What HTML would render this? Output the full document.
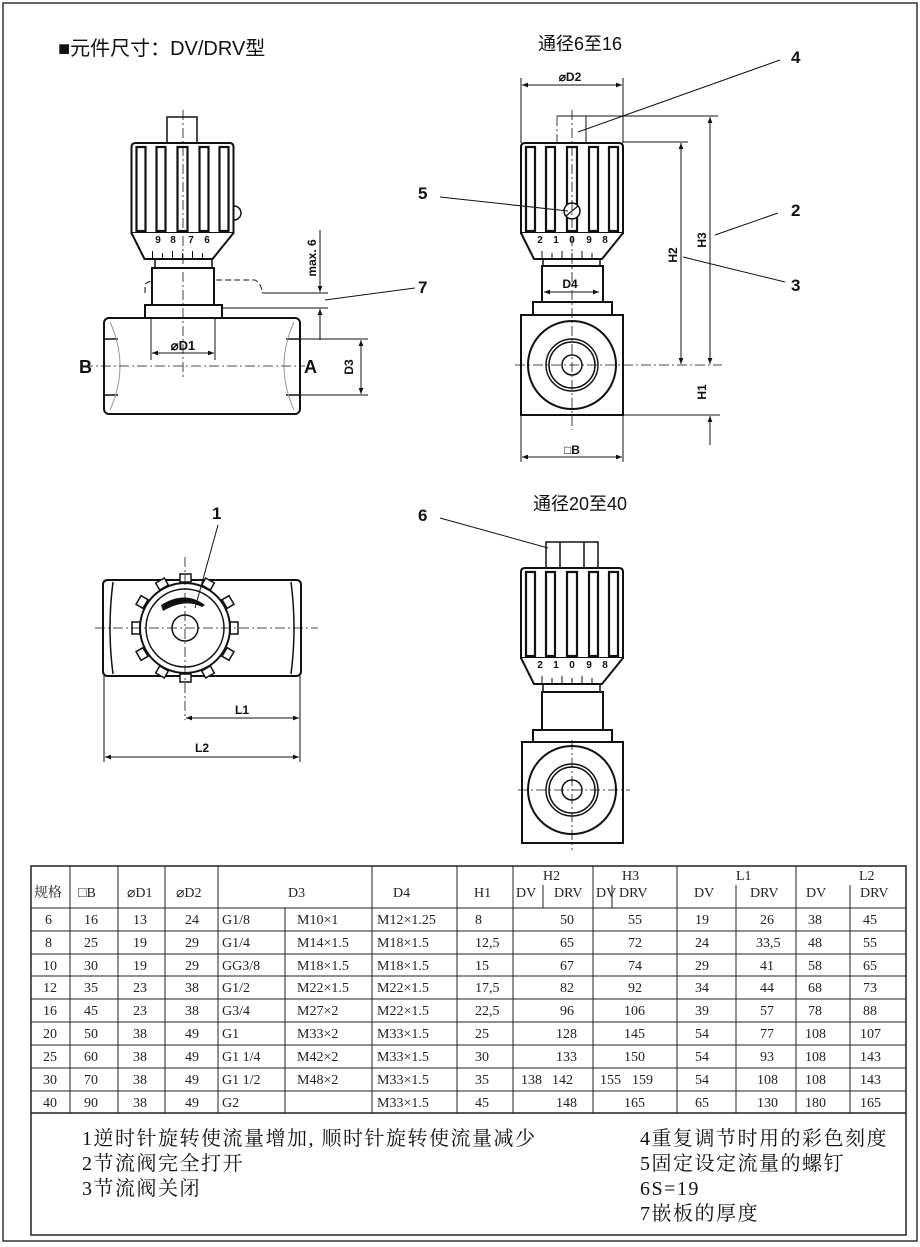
<!DOCTYPE html>
<html><head><meta charset="utf-8"><style>
body{margin:0;background:#fff;}
svg{display:block;}
.t{font-family:"Liberation Serif","Noto Serif CJK SC",serif;font-size:14px;fill:#222;}
.n{font-family:"Liberation Serif","Noto Serif CJK SC",serif;font-size:20px;letter-spacing:1.5px;fill:#111;}
.s{font-family:"Liberation Sans","Noto Sans CJK SC",sans-serif;font-weight:bold;fill:#111;}
</style></head><body>
<svg width="920" height="1247" viewBox="0 0 920 1247" xmlns="http://www.w3.org/2000/svg">
<defs>
<marker id="a" viewBox="0 0 10 10" refX="10" refY="5" markerWidth="9" markerHeight="6" orient="auto-start-reverse" markerUnits="userSpaceOnUse"><path d="M0,1 L10,5 L0,9 z" fill="#111"/></marker>
<g id="knob">
 <path d="M-51,0 Q-51,-4 -47,-4 L47,-4 Q51,-4 51,0 L51,86 L-51,86 Z" fill="#fff" stroke="#111" stroke-width="2"/>
 <rect x="-46" y="0" width="9" height="84" fill="#fff" stroke="#111" stroke-width="2.2"/>
 <rect x="-26" y="0" width="9" height="84" fill="#fff" stroke="#111" stroke-width="2.2"/>
 <rect x="-5" y="0" width="10" height="84" fill="#fff" stroke="#111" stroke-width="2.2"/>
 <rect x="17" y="0" width="9" height="84" fill="#fff" stroke="#111" stroke-width="2.2"/>
 <rect x="37" y="0" width="9" height="84" fill="#fff" stroke="#111" stroke-width="2.2"/>
 <path d="M-51,86 L-38,112 L30,112 L51,86" fill="#fff" stroke="#111" stroke-width="2"/>
 <g stroke="#111" stroke-width="1"><line x1="-30" y1="104" x2="-30" y2="112"/><line x1="-20" y1="106" x2="-20" y2="112"/><line x1="-10" y1="104" x2="-10" y2="112"/><line x1="0" y1="106" x2="0" y2="112"/><line x1="10" y1="104" x2="10" y2="112"/><line x1="20" y1="106" x2="20" y2="112"/></g>
</g>
</defs>
<rect x="3" y="3" width="914" height="1238" fill="none" stroke="#333" stroke-width="1.5"/>
<text x="58" y="55" class="s" style="font-weight:normal;font-size:20px;">■元件尺寸：DV/DRV型</text>

<!-- Drawing 1 -->
<g fill="none" stroke="#111" stroke-width="1.5">
<rect x="167" y="117" width="30" height="26"/>
<path d="M145,293 L145,284 Q150,280 160,280 L255,280 Q262,284 262,293" stroke-dasharray="6,3" stroke-width="1"/>
<rect x="155" y="259" width="57" height="10" fill="#fff"/>
<rect x="152" y="268" width="62" height="37" fill="#fff" stroke-width="2"/>
<rect x="145" y="305" width="77" height="13" fill="#fff" stroke-width="2"/>
<rect x="104" y="318" width="196" height="96" rx="5" fill="#fff" stroke-width="2"/>
<path d="M104,339 L118,339 M104,395 L118,395 M286,339 L300,339 M286,395 L300,395"/>
<path d="M110,322 Q130,366 110,410 M294,322 Q274,366 294,410" stroke="#999" stroke-width="1"/>
</g>
<use href="#knob" transform="translate(182.5,147)"/>
<path d="M234,206 A7,7 0 0 1 234,220" fill="none" stroke="#111" stroke-width="1.5"/>
<g class="s" font-size="10" text-anchor="middle"><text x="158" y="243">9</text><text x="173" y="243">8</text><text x="191" y="243">7</text><text x="207" y="243">6</text></g>
<g stroke="#111" stroke-width="0.8" stroke-dasharray="10,3,2,3" fill="none">
<line x1="183" y1="110" x2="183" y2="380"/><line x1="83" y1="366" x2="305" y2="366"/>
</g>
<g stroke="#111" stroke-width="1" fill="none">
<line x1="151" y1="318" x2="151" y2="360"/><line x1="215" y1="318" x2="215" y2="360"/>
<line x1="152" y1="353" x2="214" y2="353" marker-start="url(#a)" marker-end="url(#a)"/>
<line x1="300" y1="339" x2="368" y2="339"/><line x1="300" y1="395" x2="368" y2="395"/>
<line x1="361" y1="340" x2="361" y2="394" marker-start="url(#a)" marker-end="url(#a)"/>
<line x1="262" y1="293" x2="328" y2="293"/><line x1="222" y1="308" x2="328" y2="308"/>
<line x1="320" y1="230" x2="320" y2="292" marker-end="url(#a)"/>
<line x1="320" y1="340" x2="320" y2="309" marker-end="url(#a)"/>
<line x1="325" y1="300" x2="415" y2="288"/>
</g>
<text x="183" y="350" class="s" font-size="13" text-anchor="middle">⌀D1</text>
<text x="79" y="373" class="s" font-size="18">B</text>
<text x="304" y="373" class="s" font-size="18">A</text>
<text transform="translate(353,367) rotate(-90)" class="s" font-size="12" text-anchor="middle">D3</text>
<text transform="translate(316,258) rotate(-90)" class="s" font-size="12" text-anchor="middle">max. 6</text>
<text x="418" y="293" class="s" font-size="17">7</text>

<!-- Drawing 2 -->
<text x="580" y="50" class="s" style="font-weight:normal" font-size="18" text-anchor="middle">通径6至16</text>
<g fill="none" stroke="#111" stroke-width="1.5">
<rect x="543" y="258" width="57" height="10" fill="#fff"/>
<rect x="542" y="266" width="61" height="36" fill="#fff" stroke-width="2"/>
<rect x="533" y="302" width="79" height="13" fill="#fff" stroke-width="2"/>
<rect x="521" y="315" width="102" height="100" fill="#fff" stroke-width="2"/>
<circle cx="572" cy="365" r="44" stroke-width="2"/><circle cx="572" cy="365" r="26"/><circle cx="572" cy="365" r="23"/><circle cx="572" cy="365" r="10"/>
</g>
<use href="#knob" transform="translate(572,147)"/>
<circle cx="572" cy="211" r="8" fill="#fff" stroke="#111" stroke-width="1.5"/>
<line x1="566" y1="216" x2="578" y2="206" stroke="#111" stroke-width="1.2"/>
<g class="s" font-size="10" text-anchor="middle"><text x="540" y="243">2</text><text x="556" y="243">1</text><text x="572" y="243">0</text><text x="589" y="243">9</text><text x="605" y="243">8</text></g>
<g stroke="#111" stroke-width="0.8" stroke-dasharray="10,3,2,3" fill="none">
<line x1="572" y1="110" x2="572" y2="430"/><line x1="515" y1="365" x2="722" y2="365"/>
<line x1="557" y1="116" x2="557" y2="143"/>
</g>
<g stroke="#111" stroke-width="1" fill="none">
<line x1="586" y1="116" x2="586" y2="143"/><line x1="557" y1="116" x2="718" y2="116"/>
<line x1="521" y1="78" x2="521" y2="143"/><line x1="623" y1="78" x2="623" y2="143"/>
<line x1="522" y1="85" x2="622" y2="85" marker-start="url(#a)" marker-end="url(#a)"/>
<line x1="623" y1="142" x2="688" y2="142"/>
<line x1="681" y1="143" x2="681" y2="364" marker-start="url(#a)" marker-end="url(#a)"/>
<line x1="710" y1="117" x2="710" y2="364" marker-start="url(#a)" marker-end="url(#a)"/>
<line x1="623" y1="415" x2="720" y2="415"/>
<line x1="710" y1="445" x2="710" y2="416" marker-end="url(#a)"/>
<line x1="521" y1="415" x2="521" y2="462"/><line x1="623" y1="415" x2="623" y2="462"/>
<line x1="522" y1="457" x2="622" y2="457" marker-start="url(#a)" marker-end="url(#a)"/>
<line x1="544" y1="292" x2="599" y2="292" marker-start="url(#a)" marker-end="url(#a)"/>
<line x1="578" y1="132" x2="780" y2="60"/>
<line x1="440" y1="197" x2="568" y2="211"/>
<line x1="715" y1="235" x2="778" y2="213"/>
<line x1="683" y1="257" x2="785" y2="282"/>
</g>
<text x="570" y="81" class="s" font-size="12" text-anchor="middle">⌀D2</text>
<text x="570" y="288" class="s" font-size="12" text-anchor="middle">D4</text>
<text x="572" y="454" class="s" font-size="12" text-anchor="middle">□B</text>
<text transform="translate(677,255) rotate(-90)" class="s" font-size="12" text-anchor="middle">H2</text>
<text transform="translate(706,240) rotate(-90)" class="s" font-size="12" text-anchor="middle">H3</text>
<text transform="translate(706,392) rotate(-90)" class="s" font-size="12" text-anchor="middle">H1</text>
<g class="s" font-size="17"><text x="791" y="63">4</text><text x="418" y="199">5</text><text x="791" y="216">2</text><text x="791" y="291">3</text></g>

<!-- Drawing 3 -->
<g fill="none" stroke="#111" stroke-width="1.5">
<path d="M108,580 L296,580 Q301,580 301,585 L301,671 Q301,676 296,676 L108,676 Q103,676 103,671 L103,585 Q103,580 108,580 Z" stroke-width="2"/>
<path d="M113,582 Q107,628 113,674 M291,582 Q297,628 291,674"/>
<g fill="#fff">
<rect x="180" y="574" width="11" height="8"/><rect x="180" y="674" width="11" height="8"/>
<rect x="132" y="622" width="8" height="12"/><rect x="230" y="622" width="8" height="12"/>
<rect x="203" y="580" width="10" height="8" transform="rotate(30 208 584)"/>
<rect x="223" y="598" width="10" height="8" transform="rotate(60 228 602)"/>
<rect x="223" y="650" width="10" height="8" transform="rotate(-60 228 654)"/>
<rect x="203" y="668" width="10" height="8" transform="rotate(-30 208 672)"/>
<rect x="157" y="580" width="10" height="8" transform="rotate(-30 162 584)"/>
<rect x="137" y="598" width="10" height="8" transform="rotate(-60 142 602)"/>
<rect x="137" y="650" width="10" height="8" transform="rotate(60 142 654)"/>
<rect x="157" y="668" width="10" height="8" transform="rotate(30 162 672)"/>
</g>
<circle cx="185" cy="628" r="45" fill="#fff" stroke-width="2"/>
<circle cx="185" cy="628" r="39"/>
<circle cx="185" cy="628" r="13"/>
</g>
<path d="M161,605 Q185,590 205,605 L202,607 Q185,598 163,611 Z" fill="#111"/>
<g stroke="#111" stroke-width="0.8" stroke-dasharray="10,3,2,3" fill="none">
<line x1="95" y1="628" x2="318" y2="628"/><line x1="185" y1="557" x2="185" y2="720"/>
</g>
<g stroke="#111" stroke-width="1" fill="none">
<line x1="104" y1="676" x2="104" y2="762"/><line x1="300" y1="676" x2="300" y2="762"/>
<line x1="186" y1="718" x2="299" y2="718" marker-start="url(#a)" marker-end="url(#a)"/>
<line x1="105" y1="757" x2="299" y2="757" marker-start="url(#a)" marker-end="url(#a)"/>
<line x1="218" y1="525" x2="195" y2="608"/>
</g>
<text x="242" y="714" class="s" font-size="12" text-anchor="middle">L1</text>
<text x="202" y="752" class="s" font-size="12" text-anchor="middle">L2</text>
<text x="212" y="519" class="s" font-size="17">1</text>

<!-- Drawing 4 -->
<text x="580" y="510" class="s" style="font-weight:normal" font-size="18" text-anchor="middle">通径20至40</text>
<g fill="none" stroke="#111" stroke-width="1.5">
<rect x="546" y="542" width="52" height="26" fill="#fff"/>
<line x1="560" y1="542" x2="560" y2="568"/><line x1="584" y1="542" x2="584" y2="568"/>
<rect x="543" y="683" width="57" height="10" fill="#fff"/>
<rect x="542" y="692" width="61" height="38" fill="#fff" stroke-width="2"/>
<rect x="533" y="730" width="79" height="12" fill="#fff" stroke-width="2"/>
<rect x="522" y="742" width="101" height="101" fill="#fff" stroke-width="2"/>
<circle cx="572" cy="790" r="44" stroke-width="2"/><circle cx="572" cy="790" r="26"/><circle cx="572" cy="790" r="23"/><circle cx="572" cy="790" r="10"/>
<line x1="440" y1="518" x2="548" y2="548" stroke-width="1"/>
</g>
<use href="#knob" transform="translate(572,572)"/>
<g class="s" font-size="10" text-anchor="middle"><text x="540" y="668">2</text><text x="556" y="668">1</text><text x="572" y="668">0</text><text x="589" y="668">9</text><text x="605" y="668">8</text></g>
<g stroke="#111" stroke-width="0.8" stroke-dasharray="10,3,2,3" fill="none">
<line x1="572" y1="740" x2="572" y2="850"/><line x1="518" y1="790" x2="630" y2="790"/>
</g>
<text x="418" y="521" class="s" font-size="17">6</text>

<!-- Table -->
<g stroke="#222" stroke-width="1" fill="none">
<rect x="31" y="866" width="875" height="369" stroke-width="1.5"/>
<line x1="31" y1="908" x2="906" y2="908"/>
<line x1="31" y1="931" x2="906" y2="931"/><line x1="31" y1="954" x2="906" y2="954"/>
<line x1="31" y1="976" x2="906" y2="976"/><line x1="31" y1="999" x2="906" y2="999"/>
<line x1="31" y1="1022" x2="906" y2="1022"/><line x1="31" y1="1045" x2="906" y2="1045"/>
<line x1="31" y1="1068" x2="906" y2="1068"/><line x1="31" y1="1091" x2="906" y2="1091"/>
<line x1="31" y1="1113" x2="906" y2="1113" stroke-width="1.5"/>
<line x1="70" y1="866" x2="70" y2="1113"/><line x1="118" y1="866" x2="118" y2="1113"/>
<line x1="165" y1="866" x2="165" y2="1113"/><line x1="218" y1="866" x2="218" y2="1113"/>
<line x1="285" y1="908" x2="285" y2="1113"/><line x1="372" y1="866" x2="372" y2="1113"/>
<line x1="457" y1="866" x2="457" y2="1113"/><line x1="513" y1="866" x2="513" y2="1113"/>
<line x1="593" y1="866" x2="593" y2="1113"/><line x1="677" y1="866" x2="677" y2="1113"/>
<line x1="796" y1="866" x2="796" y2="1113"/>
<line x1="736" y1="885" x2="736" y2="1113"/><line x1="850" y1="885" x2="850" y2="1113"/>
<line x1="543" y1="885" x2="543" y2="908"/><line x1="612" y1="885" x2="612" y2="908"/>
</g>
<g class="t">
<text x="34" y="897">规格</text><text x="78" y="897">□B</text><text x="127" y="897">⌀D1</text><text x="176" y="897">⌀D2</text>
<text x="288" y="897">D3</text><text x="393" y="897">D4</text><text x="474" y="897">H1</text>
<text x="543" y="880">H2</text><text x="622" y="880">H3</text><text x="736" y="880">L1</text><text x="859" y="880">L2</text>
<text x="516" y="897">DV</text><text x="554" y="897">DRV</text><text x="596" y="897">DV</text><text x="619" y="897">DRV</text>
<text x="694" y="897">DV</text><text x="750" y="897">DRV</text><text x="806" y="897">DV</text><text x="860" y="897">DRV</text>
</g>
<g class="t">
<g transform="translate(0,924)"><text x="45">6</text><text x="84">16</text><text x="133">13</text><text x="185">24</text><text x="222">G1/8</text><text x="297">M10×1</text><text x="377">M12×1.25</text><text x="475">8</text><text x="560">50</text><text x="628">55</text><text x="695">19</text><text x="760">26</text><text x="808">38</text><text x="863">45</text></g>
<g transform="translate(0,947)"><text x="45">8</text><text x="84">25</text><text x="133">19</text><text x="185">29</text><text x="222">G1/4</text><text x="297">M14×1.5</text><text x="377">M18×1.5</text><text x="475">12,5</text><text x="560">65</text><text x="628">72</text><text x="695">24</text><text x="756">33,5</text><text x="808">48</text><text x="863">55</text></g>
<g transform="translate(0,970)"><text x="43">10</text><text x="84">30</text><text x="133">19</text><text x="185">29</text><text x="222">GG3/8</text><text x="297">M18×1.5</text><text x="377">M18×1.5</text><text x="475">15</text><text x="560">67</text><text x="628">74</text><text x="695">29</text><text x="760">41</text><text x="808">58</text><text x="863">65</text></g>
<g transform="translate(0,992)"><text x="43">12</text><text x="84">35</text><text x="133">23</text><text x="185">38</text><text x="222">G1/2</text><text x="297">M22×1.5</text><text x="377">M22×1.5</text><text x="475">17,5</text><text x="560">82</text><text x="628">92</text><text x="695">34</text><text x="760">44</text><text x="808">68</text><text x="863">73</text></g>
<g transform="translate(0,1015)"><text x="43">16</text><text x="84">45</text><text x="133">23</text><text x="185">38</text><text x="222">G3/4</text><text x="297">M27×2</text><text x="377">M22×1.5</text><text x="475">22,5</text><text x="560">96</text><text x="624">106</text><text x="695">39</text><text x="760">57</text><text x="808">78</text><text x="863">88</text></g>
<g transform="translate(0,1038)"><text x="43">20</text><text x="84">50</text><text x="133">38</text><text x="185">49</text><text x="222">G1</text><text x="297">M33×2</text><text x="377">M33×1.5</text><text x="475">25</text><text x="556">128</text><text x="624">145</text><text x="695">54</text><text x="760">77</text><text x="805">108</text><text x="860">107</text></g>
<g transform="translate(0,1061)"><text x="43">25</text><text x="84">60</text><text x="133">38</text><text x="185">49</text><text x="222">G1 1/4</text><text x="297">M42×2</text><text x="377">M33×1.5</text><text x="475">30</text><text x="556">133</text><text x="624">150</text><text x="695">54</text><text x="760">93</text><text x="805">108</text><text x="860">143</text></g>
<g transform="translate(0,1084)"><text x="43">30</text><text x="84">70</text><text x="133">38</text><text x="185">49</text><text x="222">G1 1/2</text><text x="297">M48×2</text><text x="377">M33×1.5</text><text x="475">35</text><text x="521">138</text><text x="552">142</text><text x="600">155</text><text x="632">159</text><text x="695">54</text><text x="757">108</text><text x="805">108</text><text x="860">143</text></g>
<g transform="translate(0,1107)"><text x="43">40</text><text x="84">90</text><text x="133">38</text><text x="185">49</text><text x="222">G2</text><text x="377">M33×1.5</text><text x="475">45</text><text x="556">148</text><text x="624">165</text><text x="695">65</text><text x="757">130</text><text x="805">180</text><text x="860">165</text></g>
</g>
<g class="n">
<text x="82" y="1145">1逆时针旋转使流量增加, 顺时针旋转使流量减少</text>
<text x="82" y="1170">2节流阀完全打开</text>
<text x="82" y="1195">3节流阀关闭</text>
<text x="640" y="1145">4重复调节时用的彩色刻度</text>
<text x="640" y="1170">5固定设定流量的螺钉</text>
<text x="640" y="1195">6S=19</text>
<text x="640" y="1220">7嵌板的厚度</text>
</g>
</svg>
</body></html>
